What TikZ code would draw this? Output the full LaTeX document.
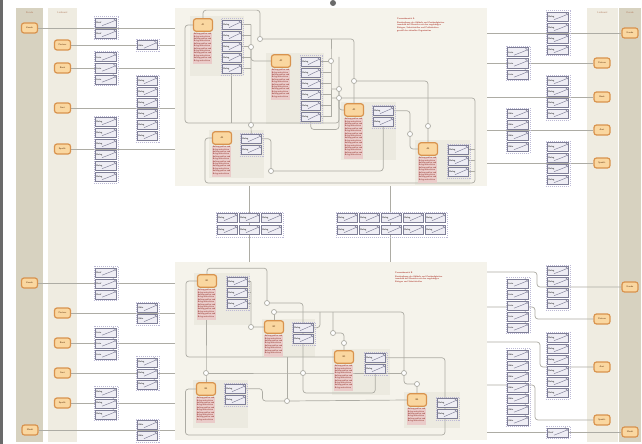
\documentclass[tikz,border=0pt]{standalone}
\usepackage{fontspec}
\usetikzlibrary{calc}
\pgfdeclarelayer{back}\pgfdeclarelayer{lines}
\pgfsetlayers{back,lines,main}
\ExplSyntaxOn
\NewDocumentCommand\myrep{mm}{\prg_replicate:nn{#1}{#2}}
\ExplSyntaxOff
\definecolor{stripA}{HTML}{D7D2C0}
\definecolor{stripB}{HTML}{EFECE1}
\definecolor{panel}{HTML}{F5F3EB}
\definecolor{lanec}{HTML}{ECEAE0}
\definecolor{actfill}{HTML}{FAD7A0}
\definecolor{actdraw}{HTML}{D8934E}
\definecolor{redtxt}{HTML}{B3473D}
\definecolor{lineg}{HTML}{ADACA4}
\definecolor{docd}{HTML}{7E7E96}
\definecolor{docf}{HTML}{EEEDF4}
\definecolor{grpd}{HTML}{BDBAD6}
\definecolor{hdrc}{HTML}{B58468}
\definecolor{edgeg}{HTML}{6A6A6A}
\tikzset{
 stripbox/.style={anchor=north west, inner sep=0pt, draw=none},
 panelbox/.style={anchor=north west, inner sep=0pt, fill=panel, draw=none},
 hdr/.style={font=\sffamily\fontsize{2.6}{3}\selectfont, text=hdrc},
 actor/.style={draw=actdraw, fill=actfill, line width=1.2pt, rounded corners=2.5pt, minimum width=16pt, minimum height=10pt, inner sep=0pt, font=\sffamily\bfseries\fontsize{2.3}{2.7}\selectfont, text=actdraw!60!black},
 proc/.style={actor, minimum width=19pt, minimum height=12.5pt},
 docbox/.style={draw=docd, fill=docf, line width=0.45pt, minimum height=9pt, inner sep=0pt},
 doctxt/.style={font=\sffamily\bfseries\fontsize{2.3}{2.6}\selectfont, text=black!75, inner sep=0pt},
 docfold/.style={draw=docd, line width=0.45pt},
 docsw/.style={draw=docd, line width=0.45pt},
 dgroup/.style={draw=grpd, line width=0.35pt, dash pattern=on 1pt off 1pt, inner sep=0pt},
 conn/.style={draw=lineg, line width=0.7pt, rounded corners=3pt},
 junc/.style={circle, draw=lineg, fill=white, line width=0.7pt, minimum size=5pt, inner sep=0pt},
 redblock/.style={fill=redtxt!28, text=redtxt!85!black, font=\sffamily\bfseries\fontsize{2}{2.4}\selectfont, align=left, inner sep=0.6pt, anchor=north west},
 titlered/.style={text=redtxt, font=\sffamily\bfseries\fontsize{2.2}{2.7}\selectfont, align=left, inner sep=0pt, anchor=north west},
}
\newcommand\docat[5]{%
  \node[docbox, anchor=north west, minimum width=#4] (#1) at (#2,#3) {};
  \node[doctxt, anchor=west] (t#1) at ($(#1.west)+(1.2,0)$) {#5};
  \draw[docfold] ($(#1.north east)+(-3.5,0)$) -- ($(#1.north east)+(0,3.5)$);
  \draw[docsw] ($(#1.south west)+(7,-1.8)$) .. controls ($(#1.south east)+(-6,-5)$) .. ($(#1.north east)+(-1.5,2.5)$);
}
\newcommand\dstack[6]{%
  \node[dgroup, anchor=north west, minimum width=#5+3, minimum height=#4*11+1] (#1) at (#2-1.5,#3-0.5) {};
  \foreach \i in {1,...,#4}{\docat{#1-\i}{#2}{#3+\i*11-10}{#5}{#6}}%
}
\newcommand\dgrid[5]{%
  \node[dgroup, anchor=north west, minimum width=#4*22+1, minimum height=#5*12+1] (#1) at (#2-1.5,#3-1.5) {};
  \foreach \c in {1,...,#4}{\foreach \r in {1,...,#5}{\docat{#1-\c-\r}{#2+\c*22-22}{#3+\r*12-12}{20}{Beleg}}}%
}
\newcommand\procA[6]{%
  \node[proc] (#1) at (#2,#3) {#4};
  \node[redblock] (#5) at (#2-10,#3+7.5) {\myrep{#6}{Auftrag prüfen und\\Beleg weiterleiten\\}};
}
\begin{document}
\begin{tikzpicture}[x=1pt,y=-1pt]
\useasboundingbox (0,0) rectangle (642,444);
\begin{pgfonlayer}{back}
\fill[white] (0,0) rectangle (642,444);
\fill[edgeg] (0,0) rectangle (2.5,444);
\node[stripbox, fill=stripA, minimum width=27, minimum height=434] (SL1) at (16,8) {};
\node[stripbox, fill=stripB, minimum width=29, minimum height=434] (SL2) at (48,8) {};
\node[stripbox, fill=stripB, minimum width=31, minimum height=434] (SR2) at (587,8) {};
\node[stripbox, fill=stripA, minimum width=22, minimum height=434] (SR1) at (619,8) {};
\node[panelbox, minimum width=312, minimum height=178] (P1) at (175,8) {};
\node[panelbox, minimum width=312, minimum height=178] (P2) at (175,262) {};
\fill[lanec] (190,16) rectangle (244,76);
\fill[lanec] (266,53) rectangle (324,124);
\fill[lanec] (341,102) rectangle (396,160);
\fill[lanec] (209,130) rectangle (264,178);
\fill[lanec] (415,140) rectangle (470,185);
\fill[lanec] (194,273) rectangle (250,325);
\fill[lanec] (262,319) rectangle (315,357);
\fill[lanec] (332,349) rectangle (390,395);
\fill[lanec] (193,380) rectangle (248,428);
\fill[lanec] (404,392) rectangle (460,428);
\end{pgfonlayer}
% strip headers
\node[hdr] (hL1) at (29.5,13) {Kunde};
\node[hdr] (hL2) at (62.5,13) {Lieferant};
\node[hdr] (hR2) at (602.5,13) {Lieferant};
\node[hdr] (hR1) at (630,13) {Kunde};
\node[circle, fill=edgeg, minimum size=6pt, inner sep=0pt] (dot) at (333,3) {};
% actors left
\node[actor] (aL1) at (29.5,28) {Kunde};
\node[actor] (aL2) at (62.5,45) {Partner};
\node[actor] (aL3) at (62.5,68) {Bank};
\node[actor] (aL4) at (62.5,108) {Amt};
\node[actor] (aL5) at (62.5,149) {Spedit.};
\node[actor] (aL6) at (29.5,283) {Kunde};
\node[actor] (aL7) at (62.5,313) {Partner};
\node[actor] (aL8) at (62.5,343) {Bank};
\node[actor] (aL9) at (62.5,373) {Amt};
\node[actor] (aL10) at (62.5,403) {Spedit.};
\node[actor] (aL11) at (30,430) {Markt};
% actors right
\node[actor] (aR1) at (630,33) {Kunde};
\node[actor] (aR2) at (602,63) {Partner};
\node[actor] (aR3) at (602,97) {Bank};
\node[actor] (aR4) at (602,130) {Amt};
\node[actor] (aR5) at (602,163) {Spedit.};
\node[actor] (aR6) at (630,287) {Kunde};
\node[actor] (aR7) at (602,319) {Partner};
\node[actor] (aR8) at (602,367) {Amt};
\node[actor] (aR9) at (602,420) {Spedit.};
\node[actor] (aR10) at (630,432) {Markt};
% document stacks left
\dstack{sL1}{95}{17}{2}{21}{Brief}
\dstack{sL2}{137}{39.5}{1}{20}{Akte}
\dstack{sL3}{95}{51.5}{3}{21}{Liste}
\dstack{sL4}{137}{75}{6}{20}{Beleg}
\dstack{sL5}{95}{116}{6}{21}{Beleg}
\dstack{sL6}{95}{266.5}{3}{21}{Brief}
\dstack{sL7}{137}{302}{2}{20}{Akte}
\dstack{sL8}{95}{326.5}{3}{21}{Liste}
\dstack{sL9}{137}{356.5}{3}{20}{Beleg}
\dstack{sL10}{95}{386.5}{3}{21}{Beleg}
\dstack{sL11}{137}{419}{2}{20}{Akte}
% document stacks right
\dstack{sR1}{547}{11}{4}{21}{Beleg}
\dstack{sR2}{507}{46.5}{3}{21}{Liste}
\dstack{sR3}{547}{75}{4}{21}{Beleg}
\dstack{sR4}{507}{108}{4}{21}{Akte}
\dstack{sR5}{547}{141}{4}{21}{Beleg}
\dstack{sR6}{547}{265}{4}{21}{Beleg}
\dstack{sR7}{507}{277.5}{5}{21}{Liste}
\dstack{sR8}{547}{332}{6}{21}{Beleg}
\dstack{sR9}{507}{348.5}{7}{21}{Akte}
\dstack{sR10}{547}{426.5}{1}{21}{Brief}
% middle grids
\dgrid{gL}{217}{213}{3}{2}
\dgrid{gR}{337}{213}{5}{2}
% top panel processes
\procA{pA1}{203}{25}{A1}{rA1}{6}
\procA{pA2}{281}{61}{A2}{rA2}{6}
\procA{pA3}{354}{110}{A3}{rA3}{8}
\procA{pA4}{222}{138}{A4}{rA4}{6}
\procA{pA5}{428}{149}{A5}{rA5}{5}
\dstack{dA1}{222}{19}{5}{19}{Beleg}
\dstack{dA2}{301}{56}{6}{19}{Beleg}
\dstack{dA3}{373}{105}{2}{20}{Beleg}
\dstack{dA4}{241}{133}{2}{20}{Beleg}
\dstack{dA5}{448}{144}{3}{20}{Beleg}
\node[titlered] (T1) at (397,18) {\textbf{Prozessbereich A}\\[0.6pt]
Beschreibung der Abläufe und Zuständigkeiten\\
innerhalb des Bereichs mit den zugehörigen\\
Belegen, Schnittstellen und Prüfschritten\\
gemäß der aktuellen Organisation};
% lower panel processes
\procA{pB1}{207}{281}{B1}{rB1}{6}
\procA{pB2}{274}{327}{B2}{rB2}{4}
\procA{pB3}{344}{357}{B3}{rB3}{5}
\procA{pB4}{206}{389}{B4}{rB4}{5}
\procA{pB5}{417}{400}{B5}{rB5}{3}
\dstack{dB1}{227}{276}{3}{20}{Beleg}
\dstack{dB2}{293}{322}{2}{20}{Beleg}
\dstack{dB3}{365}{352}{2}{20}{Beleg}
\dstack{dB4}{225}{383}{2}{20}{Beleg}
\dstack{dB5}{437}{397}{2}{20}{Beleg}
\node[titlered] (T2) at (395,272) {\textbf{Prozessbereich B}\\[0.6pt]
Beschreibung der Abläufe und Zuständigkeiten\\
innerhalb des Bereichs mit den zugehörigen\\
Belegen und Schnittstellen};
% junction coordinates
\coordinate (cj1) at (260,39); \coordinate (cj2) at (251,47);
\coordinate (cj3) at (331,61); \coordinate (cj4) at (354,81);
\coordinate (cj5) at (339,89); \coordinate (cj6) at (339,98);
\coordinate (cj7) at (251,125); \coordinate (cj8) at (428,126);
\coordinate (cj9) at (410,134); \coordinate (cj10) at (271,171);
\coordinate (rb) at (475,183); \coordinate (lb) at (205,183); \coordinate (lt) at (185,123);
\coordinate (ck1) at (267,303); \coordinate (ck2) at (274,312);
\coordinate (ck3) at (251,327); \coordinate (ck4) at (333,333);
\coordinate (ck5) at (344,343); \coordinate (ck6) at (206,373);
\coordinate (ck7) at (303,373); \coordinate (ck8) at (287,401);
\coordinate (ck9) at (404,373); \coordinate (ck10) at (417,384);
% free ends
\foreach \n/\y in {1/28,2/45,3/68,4/108,5/149,6/283,7/313,8/343,9/373,10/403,11/430}{\coordinate (eL\n) at (175,\y);}
\foreach \n/\y in {1/33,2/63,3/97,4/130,5/163,6/272,7/307,8/342,9/385,10/432}{\coordinate (eR\n) at (487,\y);}
\coordinate (m1a) at (249,186); \coordinate (m1b) at (249,262);
\coordinate (m2a) at (390,186); \coordinate (m2b) at (390,262);
\begin{pgfonlayer}{lines}
% outer connectors
\foreach \n in {1,...,11}{\draw[conn] (aL\n) -- (eL\n);}
\foreach \n in {1,...,5}{\draw[conn] (eR\n) -- (aR\n);}
\draw[conn] (eR6) -- ++(50,0) |- (aR6);
\draw[conn] (eR7) -- ++(48,0) |- (aR7);
\draw[conn] (eR8) -- ++(53,0) |- (aR8);
\draw[conn] (eR9) -- ++(48,0) |- (aR9);
\draw[conn] (eR10) -- (aR10);
\draw[conn] (m1a) -- (m1b);
\draw[conn] (m2a) -- (m2b);
% top panel
\draw[conn] (pA1.north) -- ++(0,-8) -| (cj1);
\draw[conn] (cj1) -| (cj4) -- (pA3.north);
\draw[conn] (cj4) -| (cj8) -- (pA5.north);
\foreach \i in {1,...,5}{\draw[conn] (dA1-\i.east) -- (dA1-\i.east -| cj2);}
\draw[conn] (dA1-1.east -| cj2) -- (cj2) -- (cj7) -- (dA4-1.north);
\draw[conn] (cj2) |- (pA2.west);
\foreach \i in {1,...,6}{\draw[conn] (dA2-\i.east) -- (dA2-\i.east -| cj3);}
\draw[conn] (cj1 -| cj3) -- (cj3) -- (dA2-6.east -| cj3);
\draw[conn] (cj3 |- cj5) -- (cj5) |- (pA3.west);
\draw[conn] (cj3 |- cj6) -- (cj6) -- (cj6 -| rb) -- (rb) -- (lb) |- (pA4.west);
\draw[conn] (cj6) |- (lt) |- (pA1.west);
\draw[conn] (dA1-5.south) -- (dA1-5.south |- lt);
\draw[conn] (dA3-1.east) -| (cj9) |- (pA5.west);
\draw[conn] (dA4-1.east) -| (cj10) -| (dA3-2.south);
\foreach \i in {1,...,3}{\draw[conn] (dA5-\i.east) -- (dA5-\i.east -| rb);}
\draw[conn] (dA2-6.south) -- ++(0,8) -| (cj5 |- dA2-1.north);
% lower panel
\draw[conn] (pB1.north) -- ++(0,-6) -| (ck1) -| (ck7) -- ++(0,20) -| (dB3-2.south);
\foreach \i in {1,...,3}{\draw[conn] (dB1-\i.east) -- (dB1-\i.east -| ck3);}
\draw[conn] (dB1-1.east -| ck3) -- (ck3) -- (pB2.west);
\draw[conn] (ck2) -- (pB2.north);
\draw[conn] (ck2) -| (ck9);
\draw[conn] (ck4 |- ck2) -- (ck4) -| (ck5) -- (pB3.north);
\draw[conn] (pB1.west) -- ++(-11,0) |- (pB3.west);
\draw[conn] (pB4.west) -- ++(-10.5,0) -- ++(0,46) -| (dB3-1.east -| 445,0) -- (dB3-1.east);
\draw[conn] (ck6 |- rB1.south) -- (ck6) -- (pB4.north);
\draw[conn] (ck6) -- (ck7) -- (ck9);
\draw[conn] (ck9) |- (ck10) -- (pB5.north);
\draw[conn] (dB4-1.east) -- ++(17,0) |- (ck8) -- (pB5.west);
\draw[conn] (ck8 |- pB3.west) -- (ck8);
\draw[conn] (dB2-1.east) -| (ck2 -| 320,0);
\end{pgfonlayer}
% junction circles
\foreach \n in {1,...,10}{\node[junc] (j\n) at (cj\n) {};}
\foreach \n in {1,...,10}{\node[junc] (k\n) at (ck\n) {};}
\end{tikzpicture}
\end{document}
